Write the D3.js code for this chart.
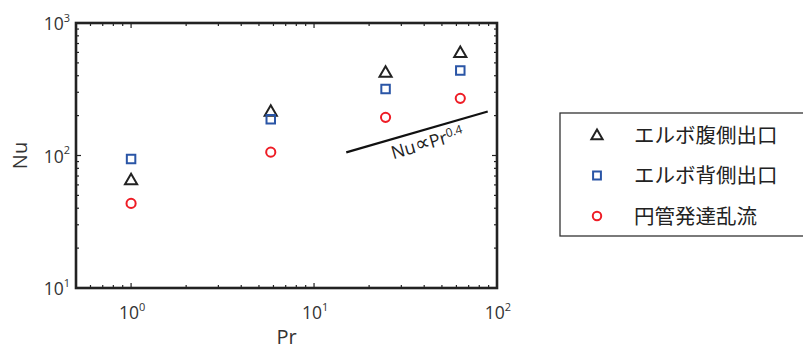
<!DOCTYPE html>
<html>
<head>
<meta charset="utf-8">
<script src="https://cdn.jsdelivr.net/npm/d3@7"></script>
<style>
  html, body { margin: 0; padding: 0; background: #fff; }
  svg { display: block; font-family: "Open Sans", "Noto Sans", sans-serif; }
</style>
</head>
<body>
<div id="chart"></div>
<script>
/** data */
const prValues = [1, 5.8, 24.6, 63];
const elbowInner = [65.5, 216, 425, 600];   // triangle
const elbowOuter = [94, 188, 318, 438];      // square
const pipeFlow = [43.5, 106, 194, 270];      // circle
const fitLine = [[15, 105.5], [89, 215]];    // Nu ~ Pr^0.4 guide
const seriesNames = ["エルボ腹側出口", "エルボ背側出口", "円管発達乱流"];
const xMajor = [1, 10, 100];
const yMajor = [10, 100, 1000];

const width = 803, height = 349;
const margin = { left: 76, right: 306, top: 23, bottom: 61 };

const svg = d3.select("#chart").append("svg")
  .attr("width", width).attr("height", height);

/** scales */
const x = d3.scaleLog().domain([0.5, 100]).range([margin.left, width - margin.right]);
const y = d3.scaleLog().domain([10, 1000]).range([height - margin.bottom, margin.top]);

/** minor tick values */
const minors = (lo, hi) => {
  const out = [];
  for (let p = lo; p < hi; p *= 10)
    for (let k = 1; k < 10; k++) if (p * k >= lo && p * k <= hi) out.push(p * k);
  return out;
};
const xMinor = minors(0.1, 100).filter((v) => v >= 0.5 && !xMajor.includes(v));
const yMinor = minors(10, 1000).filter((v) => !yMajor.includes(v));

const [x0, x1] = x.range();
const [y0, y1] = y.range();

/** inward ticks on all four sides */
const tickGroup = svg.append("g").attr("stroke", "#222").attr("stroke-width", 1.2);
const addTicks = (vals, len) => {
  for (const v of vals.x) {
    tickGroup.append("line").attr("x1", x(v)).attr("x2", x(v)).attr("y1", y0).attr("y2", y0 - len);
    tickGroup.append("line").attr("x1", x(v)).attr("x2", x(v)).attr("y1", y1).attr("y2", y1 + len);
  }
  for (const v of vals.y) {
    tickGroup.append("line").attr("y1", y(v)).attr("y2", y(v)).attr("x1", x0).attr("x2", x0 + len);
    tickGroup.append("line").attr("y1", y(v)).attr("y2", y(v)).attr("x1", x1).attr("x2", x1 - len);
  }
};
addTicks({ x: xMinor, y: yMinor }, 3);
addTicks({ x: xMajor, y: yMajor }, 5);

/** frame */
svg.append("rect")
  .attr("x", x0).attr("y", y1)
  .attr("width", x1 - x0).attr("height", y0 - y1)
  .attr("fill", "none").attr("stroke", "#222").attr("stroke-width", 2.6);

/** tick labels as 10^n */
const power = (sel, v) => {
  sel.append("tspan").text("10");
  sel.append("tspan").attr("dy", "-0.75em").attr("font-size", "11px").text(Math.round(Math.log10(v)));
};
for (const v of xMajor) {
  svg.append("text").attr("x", x(v) + 1).attr("y", y0 + 31)
    .attr("text-anchor", "middle").attr("font-size", "17.5px").attr("fill", "#333")
    .call(power, v);
}
for (const v of yMajor) {
  svg.append("text").attr("x", x0 - 6).attr("y", y(v) + 7)
    .attr("text-anchor", "end").attr("font-size", "17.5px").attr("fill", "#333")
    .call(power, v);
}

/** axis titles */
svg.append("text").text("Pr")
  .attr("x", (x0 + x1) / 2).attr("y", height - 5)
  .attr("text-anchor", "middle").attr("font-size", "20px").attr("fill", "#333");
svg.append("text").text("Nu")
  .attr("transform", `translate(27, ${(y0 + y1) / 2}) rotate(-90)`)
  .attr("text-anchor", "middle").attr("font-size", "20px").attr("fill", "#333");

/** power-law guide */
const guide = fitLine.map(([p, n]) => [x(p), y(n)]);
svg.append("path")
  .attr("d", d3.line()(guide))
  .attr("stroke", "#111").attr("stroke-width", 2.2).attr("fill", "none");
const angle = Math.atan2(guide[1][1] - guide[0][1], guide[1][0] - guide[0][0]) * 180 / Math.PI;
const mid = [(guide[0][0] + guide[1][0]) / 2, (guide[0][1] + guide[1][1]) / 2];
const guideLabel = svg.append("text")
  .attr("transform", `translate(${mid[0] + 12}, ${mid[1] + 17}) rotate(${angle})`)
  .attr("text-anchor", "middle").attr("font-size", "18px").attr("fill", "#222");
guideLabel.append("tspan").text("Nu");
guideLabel.append("tspan").attr("font-size", "21px").text("∝");
guideLabel.append("tspan").text("Pr");
guideLabel.append("tspan").attr("dy", "-0.5em").attr("font-size", "12px").text("0.4");

/** markers */
const series = [
  { name: seriesNames[0], values: elbowInner, type: d3.symbolTriangle, size: 64, color: "#222", dy: 1 },
  { name: seriesNames[1], values: elbowOuter, type: d3.symbolSquare, size: 72, color: "#2a55a6", dy: 0 },
  { name: seriesNames[2], values: pipeFlow, type: d3.symbolCircle, size: 66, color: "#ee1c25", dy: 0 },
];
for (const s of series) {
  const sym = d3.symbol().type(s.type).size(s.size);
  svg.append("g").selectAll("path").data(s.values).join("path")
    .attr("d", sym)
    .attr("transform", (d, i) => `translate(${x(prValues[i])}, ${y(d) + s.dy})`)
    .attr("fill", "none").attr("stroke", s.color).attr("stroke-width", 2);
}

/** legend */
const legend = svg.append("g").attr("transform", "translate(560, 113)");
legend.append("rect")
  .attr("width", 250).attr("height", 123)
  .attr("fill", "#fff").attr("stroke", "#333").attr("stroke-width", 1.3);
series.forEach((s, i) => {
  const row = legend.append("g").attr("transform", `translate(0, ${22 + i * 40.5})`);
  row.append("path")
    .attr("d", d3.symbol().type(s.type).size(s.size * 0.85))
    .attr("transform", `translate(37, ${s.dy})`)
    .attr("fill", "none").attr("stroke", s.color).attr("stroke-width", 2);
  row.append("text").text(s.name)
    .attr("x", 74).attr("y", 7.5)
    .attr("font-family", "'Noto Sans CJK JP', sans-serif")
    .attr("font-size", "20.5px").attr("fill", "#222");
});
</script>
</body>
</html>
